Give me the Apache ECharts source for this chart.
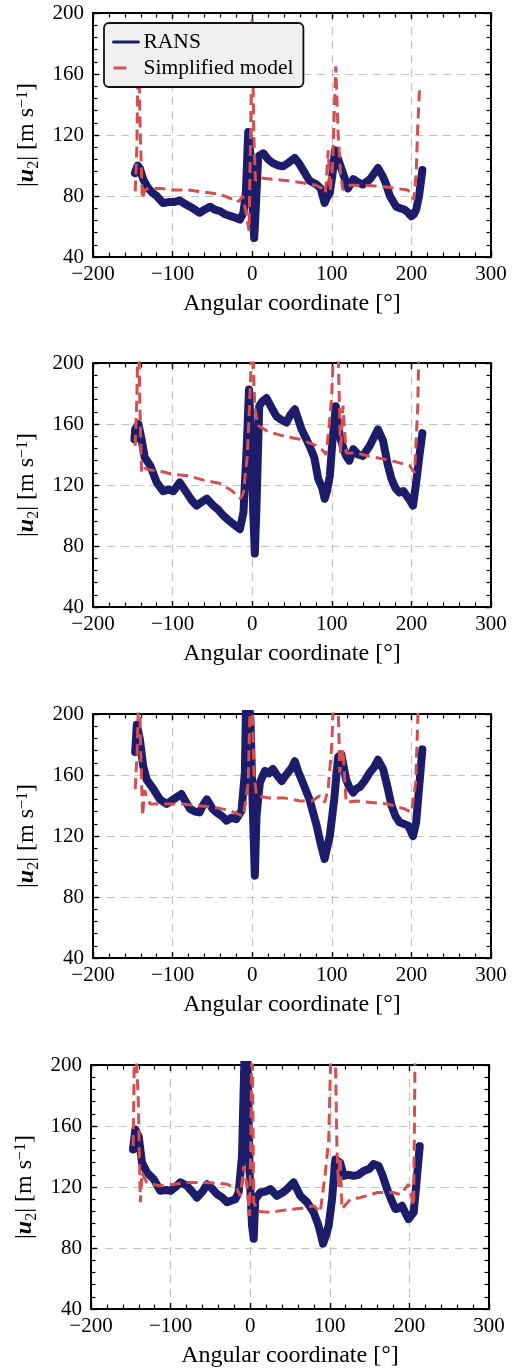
<!DOCTYPE html>
<html>
<head>
<meta charset="utf-8">
<script src="https://cdn.jsdelivr.net/npm/echarts@6/dist/echarts.min.js"></script>
<style>
html,body{margin:0;padding:0;background:#fff;}
#chart{width:519px;height:1372px;}
</style>
</head>
<body>
<div id="chart"></div>
<script>
// ---- tick labels / axis config ----
const xTicks = [-200, -100, 0, 100, 200, 300];
const yTicks = [40, 80, 120, 160, 200];
const xTitle = 'Angular coordinate [°]';
const seriesNames = ['RANS', 'Simplified model'];

// ---- Panel 1 ----
const rans1X = [-147.3,-144,-141,-137,-130.5,-125,-120,-112,-105,-99,-91,-85,-78,-72,-66,-60,-53,-47,-40,-34,-28,-22,-15.5,-11,-8,-5,-2,0.4,2.5,4.6,7.5,14,20,26,33,39,46,53.5,58,64,72,81,86,91,94,97.5,101,104,108,114,120.5,127,133,139,148,158,164,168,173,181,186,191.6,196,200,203,206,209.6,213.8];
const rans1Y = [95,100,98,91,85,82,80,75.4,76,76,77,75,73,71,69,71,73,71,70,68,67,66,64.5,69,82,122,106,73,52.5,73,106,108,104,101.6,100,99.5,102,105,102,97,90,87.5,85,75.4,79,82,95,110,104,95,85,91,89,87.5,91,98.4,93,88,80,73,72,71,69,66.7,68,71,80,97];
const model1X = [-147,-145,-143,-140.5,-138,-135,-130,-115,-100,-80,-60,-40,-25,-20,-16,-12,-8,-4,-2,0,2,4,8,25,45,65,80,88,92,95.5,98,101,105,108,111,114,120,140,160,180,195,200,203,206,208,210.5];
const model1Y = [83,110,180,120,78,84,85,85,84,84,82.5,81,78,76,77,80,70,57,120,196,120,90,92,91,90,88.5,87,85,82,110,83,100,165,120,95,84,87,87,86.5,85,84,82,77.5,95,126,153];

// ---- Panel 2 ----
const rans2X = [-148,-147,-143,-139,-135,-128,-120,-112,-105,-99,-91,-82.4,-76,-70,-63,-57,-49,-43,-36.4,-30,-24,-15.5,-11,-7,-4,-1,1.3,3.3,5.4,8.8,13,18,24,30.5,36,43,48,53.6,62,72,78,83,88,91,94,97.5,101,105,110,114,118,122,127,133,139,147.7,158,164.4,170,175,180,185,190,194,198,202,206,210.5,213.8];
const rans2Y = [150,156.5,160,150,138,132.6,121.7,116,117,116,121.7,115,110,106.5,109,111,106.5,104,100,97,94.5,91,102,143.5,182.6,150,102,75,106.5,171.7,175,177,171,165,163,161,166,169.6,156.5,145.7,138,124,118,111,116,126,150,171.7,152,145,139,136,143.5,140,139,145.7,156.5,149,134,124,118,115,116,113,110,106.5,121.7,141,154];
const model2X = [-147,-145,-143,-141,-139,-135,-130,-115,-100,-80,-60,-40,-25,-15,-11,-6,-2,0,2,3.3,7.5,20,40,60,80,88,93,96.6,99.6,104,107,111,114,118,130,150,175,198,204,208,210];
const model2Y = [145.7,175,230,170,128,131,130,129,127,126,123,121,116,111,115,140,190,240,190,170,159,155,152,150,146,143,140,159,176,230,230,141,172,141,141,138.5,136,132.6,128,171.7,230];

// ---- Panel 3 ----
const rans3X = [-147,-145,-141,-137,-132.6,-124,-116,-107.5,-99,-89,-83,-78,-72,-66,-62,-57,-50,-45,-38,-32,-26,-20,-13.4,-9.2,-7,-5,-2,0.4,3.3,5.4,9.6,16,21,26,31,37,41,45,50,53.6,58,62,72,81,86,91,94,97.5,103,108,112,118,122,127,131,135,141,147.7,153,158,164.4,170,175,180,185,190,196,202,206,210.5,213.8];
const rans3Y = [175,193,183,166,157,150.7,144,141,144,147.5,142,137.7,136,135.5,140,144,138,135.5,133,130,132,131,136.6,161.6,230,230,194,144,94,133,155,162.7,161,164,160,156,159,161.6,165,169,162,157,144,126.8,115,105,112,120,144,172,173.5,157,152,148.5,151,152,156,161.6,165,170,164,152,140,133,129,128,126.8,120,129,157,176.8];
const model3X = [-147,-144.4,-142,-140,-137.7,-135,-132.6,-128,-110,-90,-70,-50,-30,-17.6,-11,-5,-1,2,5.4,20,40,60,75,85,91,95.4,99.6,104,107,110,114,118,130,150,170,191.6,200,205.4,208,209];
const model3Y = [150.7,176.8,230,175,133.3,150,145,141,141,141,140,139,137,134.4,133,155,240,161.6,146.4,145,145,143,143,146.4,142,150.7,176.8,230,230,161.6,176.8,142,143,142,141,137.7,135.5,155,196,230];

// ---- Panel 4 ----
const rans4X = [-147.2,-144.3,-140,-136,-129.6,-121,-113,-106,-100,-94,-87.8,-79.4,-73,-66.8,-60,-54,-48,-41.7,-35,-29,-24,-18.7,-14.5,-10.3,-6,-3.2,-0.7,2.3,4.4,6.4,12.7,19,25.3,33.7,40,46.2,54.6,63,71.4,79.7,85,88,91.5,95,98.6,102.8,107,113,117.4,123,130,136,142.5,150,155,161.4,166,172,177,182.3,186,190.7,195,199,205.4,209.6,213];
const rans4Y = [144.6,157.7,153,136,129.4,125,117.5,118,117.5,120,123,120.8,117,113,117,121.8,119,115.3,113,110,111,112,116.4,140.3,230,200,129.4,94.7,86,112,116.4,117,118.6,114.2,116,118.6,123,114.2,110,103.4,96,90.4,82.8,88,94.7,112,138,136,127.3,128,127.3,128,130.5,132,135,133.8,128,118.6,112,105.6,106,107.7,103,99,103.4,127.3,146.8];
const model4X = [-147,-145,-143,-140.5,-138,-136,-130,-115,-100,-80,-60,-40,-29,-16.6,-12.4,-8,-4,-0.7,1,2.3,3.5,4.4,10,25,45,65,80,88,94.4,98.6,102.8,106,109,111,113,115.3,125.8,138,160,180,188.6,199,205.4,207.5];
const model4Y = [146.8,230,230,175,110,129.4,123,120.8,121.5,123,123,122.5,121.8,118.6,114,133.8,120,101,160,240,160,110,104,103.4,105,106,107.7,103.4,129.4,151,240,240,144.6,120,140,105.6,112,113,116.4,116.4,115,121.8,107.7,230];

const panels = [
  {top: 13,   left: 93, rx: rans1X, ry: rans1Y, mx: model1X, my: model1Y},
  {top: 363,  left: 93, rx: rans2X, ry: rans2Y, mx: model2X, my: model2Y},
  {top: 714,  left: 93, rx: rans3X, ry: rans3Y, mx: model3X, my: model3Y},
  {top: 1065, left: 91, rx: rans4X, ry: rans4Y, mx: model4X, my: model4Y}
];

const FONT = '"Liberation Serif", "DejaVu Serif", serif';
const BLUE = '#1c1c6b';
const RED = '#d44f4f';
const pair = (xs, ys) => xs.map((x, i) => [x, ys[i]]);
const minus = v => String(v).replace('-', '\u2212');

const grids = [], xAxes = [], yAxes = [], series = [];
const axisLine = {show: true, onZero: false, lineStyle: {color: '#000', width: 2}};
const tick = {show: true, inside: true, length: 6, lineStyle: {color: '#000', width: 1.4}};
const minor = {show: true, splitNumber: 5, length: 4.5, lineStyle: {color: '#000', width: 1.2}};
const grid = {show: true, lineStyle: {color: '#c4c4c4', width: 1.2, type: [8, 6]}};

panels.forEach((p, i) => {
  grids.push({left: p.left, top: p.top, width: 398, height: 244, containLabel: false});
  xAxes.push({
    type: 'value', gridIndex: i, min: -200, max: 300, interval: 100, position: 'bottom',
    axisLine, axisTick: tick, minorTick: minor, splitLine: grid,
    axisLabel: {fontSize: 21, color: '#000', fontFamily: FONT, margin: 7, formatter: minus},
    name: xTitle, nameLocation: 'middle', nameGap: 35,
    nameTextStyle: {fontSize: 24, color: '#000', fontFamily: FONT}
  });
  xAxes.push({
    type: 'value', gridIndex: i, min: -200, max: 300, interval: 100, position: 'top',
    axisLine, axisTick: tick, minorTick: minor, splitLine: {show: false}, axisLabel: {show: false}
  });
  yAxes.push({
    type: 'value', gridIndex: i, min: 40, max: 200, interval: 40, position: 'left',
    axisLine, axisTick: tick, minorTick: minor, splitLine: grid,
    axisLabel: {fontSize: 21, color: '#000', fontFamily: FONT, margin: 9},
    name: '{n||}{b|u}{s|2}{n|| [m s}{p|\u22121}{n|]}',
    nameLocation: 'middle', nameGap: 52,
    nameTextStyle: {
      color: '#000', fontFamily: FONT, fontSize: 24,
      rich: {
        n: {fontSize: 24, fontFamily: FONT, color: '#000'},
        b: {fontSize: 24, fontFamily: FONT, color: '#000', fontWeight: 'bold', fontStyle: 'italic'},
        s: {fontSize: 16, fontFamily: FONT, color: '#000', verticalAlign: 'bottom', padding: [0, 0, -3, 0]},
        p: {fontSize: 16, fontFamily: FONT, color: '#000', verticalAlign: 'top'}
      }
    }
  });
  yAxes.push({
    type: 'value', gridIndex: i, min: 40, max: 200, interval: 40, position: 'right',
    axisLine, axisTick: tick, minorTick: minor, splitLine: {show: false}, axisLabel: {show: false}
  });
  series.push({
    name: seriesNames[0], type: 'line', xAxisIndex: 2 * i, yAxisIndex: 2 * i,
    data: pair(p.rx, p.ry), showSymbol: false, symbol: 'none', clip: true, z: 2,
    lineStyle: {color: BLUE, width: 8, join: 'round', cap: 'round'}, itemStyle: {color: BLUE}
  });
  series.push({
    name: seriesNames[1], type: 'line', xAxisIndex: 2 * i, yAxisIndex: 2 * i,
    data: pair(p.mx, p.my), showSymbol: false, symbol: 'none', clip: true, z: 3,
    lineStyle: {color: RED, width: 3, type: [11, 6]}, itemStyle: {color: RED}
  });
});

const chart = echarts.init(document.getElementById('chart'), null, {renderer: 'canvas'});
chart.setOption({
  animation: false,
  backgroundColor: '#fff',
  grid: grids,
  xAxis: xAxes,
  yAxis: yAxes,
  legend: {
    data: [
      {name: seriesNames[0], lineStyle: {width: 3}, itemStyle: {opacity: 0}},
      {name: seriesNames[1], lineStyle: {width: 3, type: [13, 30]}, itemStyle: {opacity: 0}}
    ],
    orient: 'vertical', left: 104, top: 23, z: 10,
    itemWidth: 25, itemHeight: 14, itemGap: 4,
    padding: [8, 10, 8, 8],
    backgroundColor: '#f0f0f0', borderColor: '#111', borderWidth: 1.8, borderRadius: 5,
    textStyle: {fontSize: 21.5, color: '#000', fontFamily: FONT, lineHeight: 22},
    selectedMode: false
  },
  series
});
</script>
</body>
</html>
